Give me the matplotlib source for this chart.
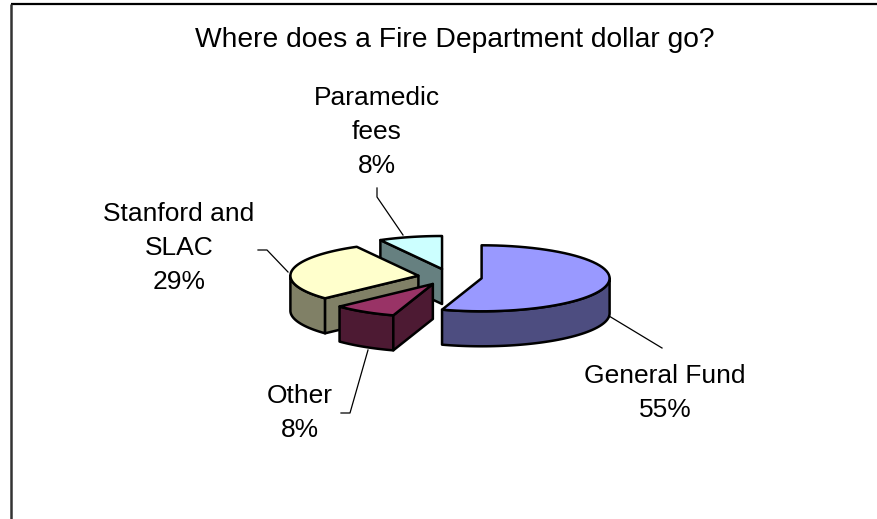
import matplotlib

matplotlib.use("Agg")
import matplotlib.pyplot as plt
import numpy as np
from matplotlib.patches import Polygon

# Slice order follows the workbook: clockwise from 12 o'clock
labels = ["General Fund", "Other", "Stanford and\nSLAC", "Paramedic\nfees"]
values = [55, 8, 29, 8]
top_colors = ["#9999FF", "#993366", "#FFFFCC", "#CCFFFF"]
side_colors = ["#4D4D80", "#4D1A33", "#808066", "#668080"]

# label anchor (centre of text block) and leader line points, in pixels
label_pos = [(665, 393), (300, 413), (179, 248), (377, 132)]
leaders = [
    [(609, 316), (662, 348)],
    [(341, 413), (350, 413), (368, 350)],
    [(258, 250), (267, 250), (288, 272)],
    [(377, 188), (377, 197), (403, 235)],
]

W, H = 877, 519
CX, CY = 450, 277
RX, RY = 128, 33
DEPTH = 35
EXPLODE = 32

plt.rcParams["font.family"] = ["Liberation Sans", "DejaVu Sans"]

fig = plt.figure(figsize=(W / 100, H / 100), dpi=100)
ax = fig.add_axes([0, 0, 1, 1])
ax.set_xlim(0, W)
ax.set_ylim(H, 0)
ax.axis("off")

# chart frame (only top and left edges fall inside the image)
ax.plot([11, W], [4, 4], color="black", lw=1.6, solid_capstyle="butt")
ax.plot([11, 11], [4, H], color="#333333", lw=1.8, solid_capstyle="butt")

ax.text(455, 40, "Where does a Fire Department dollar go?", ha="center",
        va="center", fontsize=20.3)


def rim(cx, cy, a0, a1, n=60):
    t = np.radians(np.linspace(a0, a1, n))
    return np.column_stack([cx + RX * np.sin(t), cy - RY * np.cos(t)])


def poly(pts, color, z):
    ax.add_patch(Polygon(pts, closed=True, facecolor=color, edgecolor="black",
                         lw=1.8, joinstyle="round", zorder=z))


total = float(sum(values))
bounds = np.concatenate([[0], np.cumsum(values) / total * 360.0])
slices = []
for i in range(len(values)):
    a1, a2 = bounds[i], bounds[i + 1]
    mid = np.radians((a1 + a2) / 2)
    cx = CX + EXPLODE * np.sin(mid)
    cy = CY - EXPLODE * np.cos(mid) * RY / RX
    slices.append((cy, i, a1, a2, cx))

# back slices first
for z, (cy, i, a1, a2, cx) in enumerate(sorted(slices)):
    base = 10 + z * 5
    # curved outer wall facing the viewer
    s0, s1 = max(a1, 90), min(a2, 270)
    if s1 > s0:
        top = rim(cx, cy, s0, s1)
        bot = top + [0, DEPTH]
        poly(np.vstack([top, bot[::-1]]), side_colors[i], base)
    # flat cut faces
    for ang, normal in ((a1, a1 - 90), (a2, a2 + 90)):
        if np.cos(np.radians(normal)) < -1e-6:
            r = np.radians(ang)
            px, py = cx + RX * np.sin(r), cy - RY * np.cos(r)
            poly([(cx, cy), (px, py), (px, py + DEPTH), (cx, cy + DEPTH)],
                 side_colors[i], base + 1)
    # top face
    poly(np.vstack([[cx, cy], rim(cx, cy, a1, a2)]), top_colors[i], base + 2)

for i, (lab, val) in enumerate(zip(labels, values)):
    x, y = label_pos[i]
    ax.text(x, y, f"{lab}\n{val}%", ha="center", va="center", fontsize=19,
            linespacing=1.53)
    pts = np.array(leaders[i])
    ax.plot(pts[:, 0], pts[:, 1], color="black", lw=0.9, zorder=40)

fig.savefig("out.png", dpi=100)
